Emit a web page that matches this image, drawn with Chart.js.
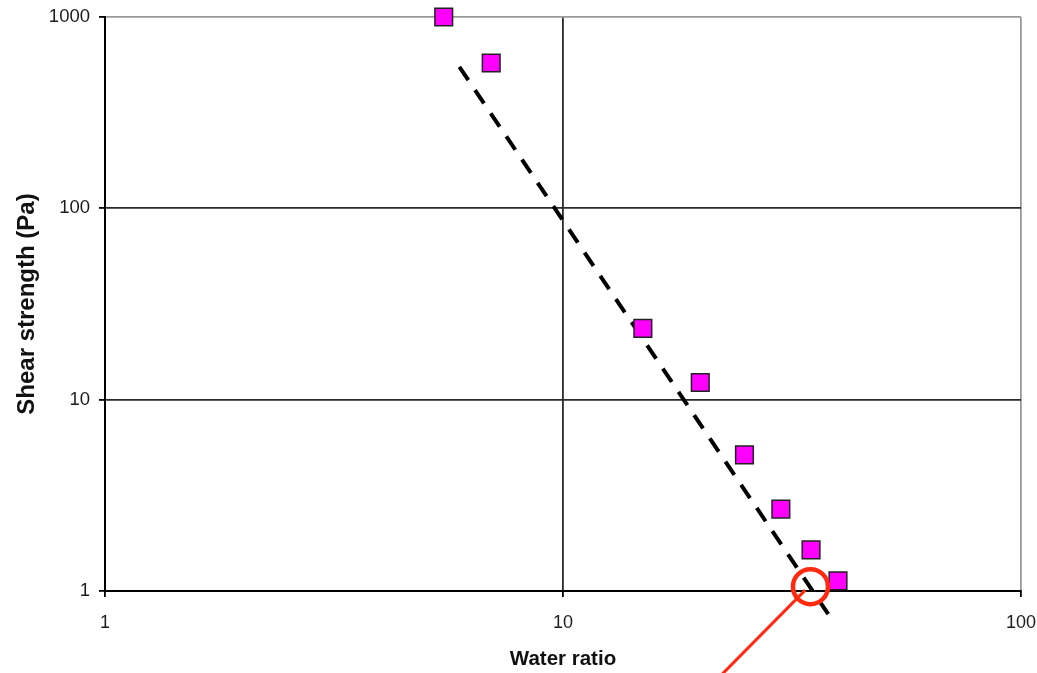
<!DOCTYPE html>
<html>
<head>
<meta charset="utf-8">
<script src="https://cdn.jsdelivr.net/npm/chart.js@4.4.1/dist/chart.umd.min.js"></script>
<style>
  html, body { margin: 0; padding: 0; background: #ffffff; }
  #wrap { width: 1037px; height: 673px; position: relative; }
</style>
</head>
<body>
<div id="wrap"><canvas id="c"></canvas></div>
<script>
// Measured points (water ratio, shear strength in Pa)
const waterRatio = [5.49, 6.97, 14.94, 19.94, 24.9, 29.9, 34.8, 39.85];
const shearStrength = [1000, 575, 23.6, 12.3, 5.15, 2.68, 1.64, 1.13];

// Trend line end points
const trendX = [5.94, 38.5];
const trendY = [549, 0.719];

// Red highlight circle and pointer line
const circleX = [34.7];
const circleY = [1.054];
const pointerX = [33.8, 20.55];
const pointerY = [1.01, 0.303];

// Axis ticks
const xTicks = [1, 10, 100];
const yTicks = [1, 10, 100, 1000];

const toXY = (xs, ys) => xs.map((x, i) => ({ x: x, y: ys[i] }));

const FONT = "'Liberation Sans', Arial, sans-serif";

new Chart(document.getElementById('c'), {
  type: 'scatter',
  data: {
    datasets: [
      {
        label: 'Trend',
        type: 'line',
        data: toXY(trendX, trendY),
        borderColor: '#000000',
        borderWidth: 4,
        borderDash: [16, 12],
        pointRadius: 0,
        fill: false,
        clip: false,
        order: 3
      },
      {
        label: 'Data',
        data: toXY(waterRatio, shearStrength),
        pointStyle: 'rect',
        pointRadius: 12.5,
        pointHoverRadius: 12.5,
        backgroundColor: '#ff00ff',
        borderColor: '#222222',
        borderWidth: 1.5,
        clip: false,
        order: 2
      },
      {
        label: 'Pointer',
        type: 'line',
        data: toXY(pointerX, pointerY),
        borderColor: '#ff2a10',
        borderWidth: 3,
        pointRadius: 0,
        fill: false,
        clip: false,
        order: 1
      },
      {
        label: 'Circle',
        data: toXY(circleX, circleY),
        pointStyle: 'circle',
        pointRadius: 17.5,
        pointHoverRadius: 17.5,
        backgroundColor: 'rgba(0,0,0,0)',
        borderColor: '#ff2a10',
        borderWidth: 4.5,
        clip: false,
        order: 0
      }
    ]
  },
  options: {
    responsive: true,
    maintainAspectRatio: false,
    animation: false,
    events: [],
    layout: { autoPadding: false, padding: { top: 17, right: 16, left: 0, bottom: 0 } },
    plugins: { legend: { display: false }, tooltip: { enabled: false } },
    scales: {
      x: {
        type: 'logarithmic',
        min: 1,
        max: 100,
        afterBuildTicks: (s) => { s.ticks = xTicks.map(v => ({ value: v })); },
        afterFit: (s) => { s.height = 82; s.paddingLeft = 0; s.paddingRight = 0; },
        ticks: {
          callback: (v) => String(v),
          font: { family: FONT, size: 18 },
          color: '#1c1c1c',
          padding: 15,
          maxRotation: 0,
          autoSkip: false
        },
        grid: {
          color: (ctx) => (ctx.tick && ctx.tick.value === 100) ? '#9a9a9a' : '#2a2a2a',
          lineWidth: 1.8,
          tickColor: '#000000',
          tickLength: 6,
          drawTicks: true
        },
        border: { display: true, color: '#000000', width: 2 },
        title: {
          display: true,
          text: 'Water ratio',
          font: { family: FONT, size: 20.5, weight: 'bold' },
          color: '#111111',
          padding: { top: 0, bottom: 1 }
        }
      },
      y: {
        type: 'logarithmic',
        min: 1,
        max: 1000,
        afterBuildTicks: (s) => { s.ticks = yTicks.map(v => ({ value: v })); },
        afterFit: (s) => { s.width = 105; s.paddingTop = 0; s.paddingBottom = 0; },
        ticks: {
          callback: (v) => String(v),
          font: { family: FONT, size: 18.5 },
          color: '#1c1c1c',
          padding: 9,
          autoSkip: false
        },
        grid: {
          color: (ctx) => (ctx.tick && ctx.tick.value === 1000) ? '#9a9a9a' : '#2a2a2a',
          lineWidth: 1.8,
          tickColor: '#000000',
          tickLength: 6,
          drawTicks: true
        },
        border: { display: true, color: '#000000', width: 2 },
        title: {
          display: true,
          text: 'Shear strength (Pa)',
          font: { family: FONT, size: 24, weight: 'bold' },
          color: '#111111',
          padding: { top: 13, bottom: 0 }
        }
      }
    }
  }
});
</script>
</body>
</html>
